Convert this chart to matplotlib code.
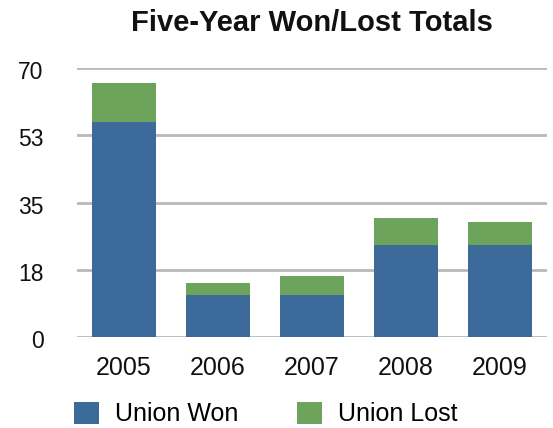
import matplotlib
matplotlib.use("Agg")
import matplotlib.pyplot as plt
import matplotlib.transforms as mtransforms
from matplotlib.patches import Patch

years = ["2005", "2006", "2007", "2008", "2009"]
union_won = [56, 11, 11, 24, 24]
union_lost = [10, 3, 5, 7, 6]
y_ticks = [0, 17.5, 35, 52.5, 70]
y_tick_labels = ["0", "18", "35", "53", "70"]

blue = "#3C6B9B"
green = "#6DA35A"

plt.rcParams['font.family'] = ['Liberation Sans', 'DejaVu Sans']

W, H = 553, 428
fig = plt.figure(figsize=(W / 100, H / 100), dpi=100)
ax = fig.add_axes([77 / W, (H - 337) / H, 470 / W, 269 / H])

x = list(range(len(years)))
ax.bar(x, union_won, width=0.68, color=blue, zorder=3, label="Union Won")
ax.bar(x, union_lost, width=0.68, bottom=union_won, color=green, zorder=3, label="Union Lost")

ax.set_xlim(-0.5, len(years) - 0.5)
ax.set_ylim(0, 70)
ax.set_yticks(y_ticks)
ax.set_yticklabels(y_tick_labels)
ax.set_xticks(x)
ax.set_xticklabels(years)
ax.tick_params(axis='y', length=0, pad=24, labelsize=16.5, labelcolor="#111111")
ax.tick_params(axis='x', length=0, pad=14, labelsize=18, labelcolor="#111111")
for s in ax.spines.values():
    s.set_visible(False)
ax.yaxis.grid(True, color="#b9b9b9", linewidth=2.0, zorder=0)
ax.set_axisbelow(True)

shift = mtransforms.ScaledTranslation(0, -2 / 100, fig.dpi_scale_trans)
for lbl in ax.get_yticklabels():
    lbl.set_transform(lbl.get_transform() + shift)

fig.text(312 / W, 1 - 23 / H, "Five-Year Won/Lost Totals", ha='center', va='center',
         fontsize=21, fontweight='bold', color="#111111")

handles = [Patch(facecolor=blue, edgecolor='none'), Patch(facecolor=green, edgecolor='none')]
fig.legend(handles, ["Union Won", "Union Lost"], loc='center left',
           bbox_to_anchor=(74 / W, 14 / H), ncol=2, frameon=False, fontsize=18,
           handlelength=1.0, handleheight=1.0, handletextpad=0.64,
           columnspacing=2.36, borderpad=0, borderaxespad=0)

fig.savefig("out.png", dpi=100)
